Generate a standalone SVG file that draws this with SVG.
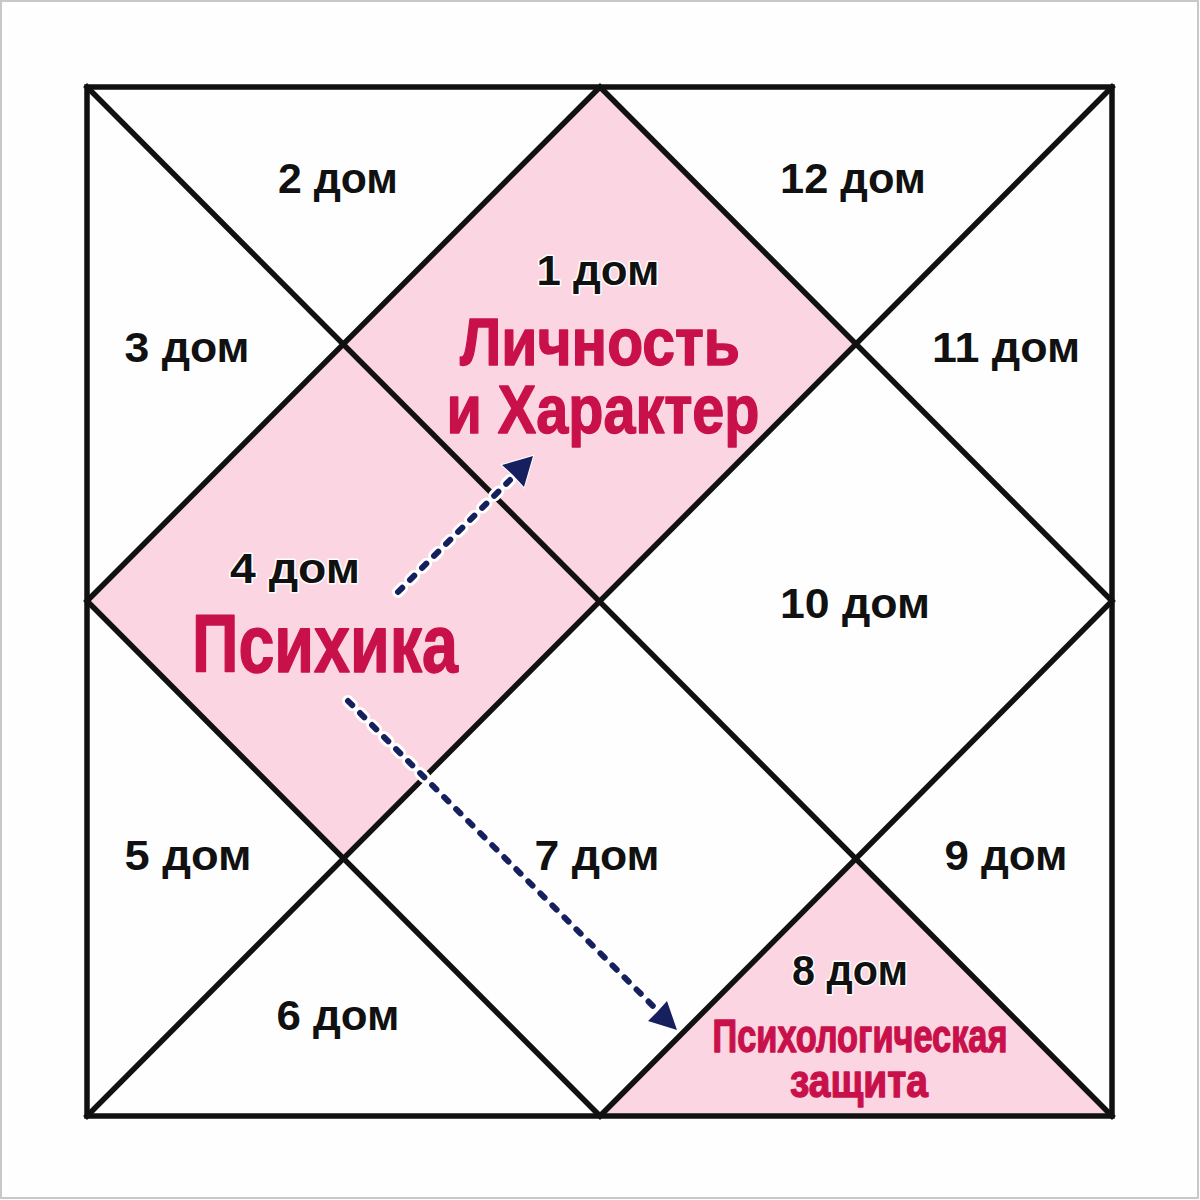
<svg xmlns="http://www.w3.org/2000/svg" width="1200" height="1200" viewBox="0 0 1200 1200">
  <style>
    .ln{fill:none;stroke:#111;stroke-width:5.5;stroke-linecap:square;stroke-linejoin:miter}
    .pink{fill:#fbd5e1;stroke:none}
    .lbl{font-family:"Liberation Sans",Arial,sans-serif;font-weight:bold;font-size:43px;fill:#111;text-anchor:middle;stroke:#fff;stroke-width:3;paint-order:stroke;stroke-linejoin:round}
    .red{font-family:"Liberation Sans Narrow","Liberation Sans",Arial,sans-serif;font-weight:bold;fill:#c8104a;text-anchor:middle;stroke:#c8104a;stroke-width:1.4;stroke-linejoin:round}
    .halo{fill:none;stroke:#fff;stroke-width:12;stroke-linecap:round;stroke-dasharray:6 11}
    .dash{fill:none;stroke:#16205f;stroke-width:6;stroke-linecap:round;stroke-dasharray:6 11}
    .head{fill:#16205f;stroke:#fff;stroke-width:2;paint-order:stroke}
  </style>
  <rect x="1" y="1" width="1197" height="1197" fill="#fefefe" stroke="#c8c8c8" stroke-width="2"/>

  <g id="fills">
    <polygon class="pink" points="600,87 857,344 600,601 343,344"/>
    <polygon class="pink" points="87,601 343,344 600,601 343,858"/>
    <polygon class="pink" points="857,858 1112,1116 600,1116"/>
  </g>

  <g id="chart-lines">
    <rect class="ln" x="87" y="87" width="1025" height="1029"/>
    <line class="ln" x1="87" y1="87" x2="1112" y2="1116"/>
    <line class="ln" x1="1112" y1="87" x2="87" y2="1116"/>
    <polygon class="ln" points="600,87 1112,601 600,1116 87,601"/>
  </g>

  <g id="connectors">
    <path class="halo" d="M398,592 L510,480"/>
    <path class="dash" d="M398,592 L510,480"/>
    <polygon class="head" points="533,456 502,465 513,475 524,487"/>
    <path class="halo" d="M348,701 L656,1009"/>
    <path class="dash" d="M348,701 L656,1009"/>
    <polygon class="head" points="677,1030 648,1021 658,1011 667,1001"/>
  </g>

  <g id="house1">
    <text class="lbl" x="598" y="285" textLength="123" lengthAdjust="spacingAndGlyphs">1 дом</text>
    <text class="red" x="600" y="365" font-size="66" textLength="280" lengthAdjust="spacingAndGlyphs">Личность</text>
    <text class="red" x="603" y="433" font-size="69" textLength="313" lengthAdjust="spacingAndGlyphs">и Характер</text>
  </g>
  <g id="house2"><text class="lbl" x="338" y="193" textLength="120" lengthAdjust="spacingAndGlyphs">2 дом</text></g>
  <g id="house3"><text class="lbl" x="187" y="362" textLength="125" lengthAdjust="spacingAndGlyphs">3 дом</text></g>
  <g id="house4">
    <text class="lbl" x="295" y="583" textLength="130" lengthAdjust="spacingAndGlyphs">4 дом</text>
    <text class="red" x="325" y="672" font-size="82" textLength="266" lengthAdjust="spacingAndGlyphs">Психика</text>
  </g>
  <g id="house5"><text class="lbl" x="188" y="870" textLength="127" lengthAdjust="spacingAndGlyphs">5 дом</text></g>
  <g id="house6"><text class="lbl" x="338" y="1030" textLength="123" lengthAdjust="spacingAndGlyphs">6 дом</text></g>
  <g id="house7"><text class="lbl" x="597" y="870" textLength="125" lengthAdjust="spacingAndGlyphs">7 дом</text></g>
  <g id="house8">
    <text class="lbl" x="850" y="985" textLength="116" lengthAdjust="spacingAndGlyphs">8 дом</text>
    <text class="red" x="860" y="1052" font-size="46" textLength="295" lengthAdjust="spacingAndGlyphs">Психологическая</text>
    <text class="red" x="859" y="1097" font-size="47" textLength="138" lengthAdjust="spacingAndGlyphs">защита</text>
  </g>
  <g id="house9"><text class="lbl" x="1006" y="870" textLength="123" lengthAdjust="spacingAndGlyphs">9 дом</text></g>
  <g id="house10"><text class="lbl" x="855" y="618" textLength="150" lengthAdjust="spacingAndGlyphs">10 дом</text></g>
  <g id="house11"><text class="lbl" x="1006" y="362" textLength="148" lengthAdjust="spacingAndGlyphs">11 дом</text></g>
  <g id="house12"><text class="lbl" x="853" y="193" textLength="146" lengthAdjust="spacingAndGlyphs">12 дом</text></g>
</svg>
